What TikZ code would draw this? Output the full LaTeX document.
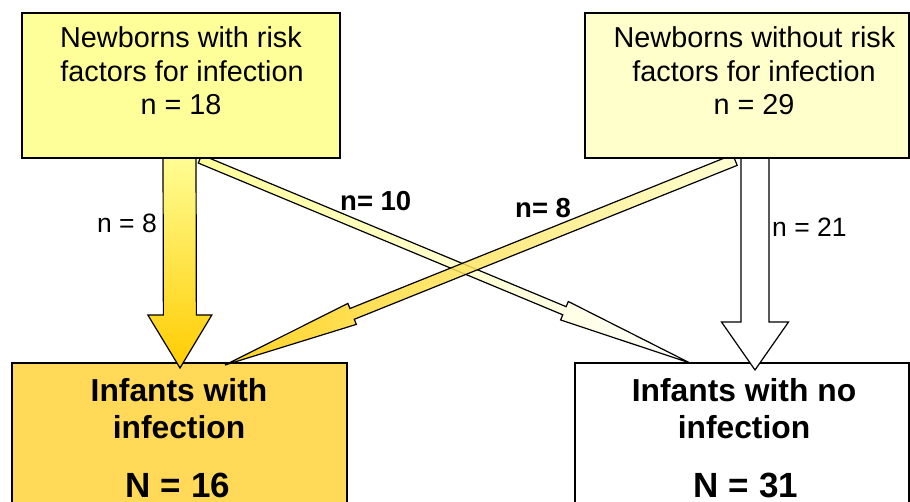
\documentclass[tikz,border=0pt]{standalone}
\usepackage{fontspec}
\setmainfont{Liberation Sans}
\usetikzlibrary{calc}
\definecolor{ylight}{HTML}{FFFF99}
\definecolor{ypale}{HTML}{FFFFCC}
\definecolor{ygold}{HTML}{FFD957}
\definecolor{ydeep}{HTML}{FFCC00}
% #1 style, #2 start, #3 tip, #4 shaft half width, #5 head half width, #6 head length
\newcommand{\blockarr}[6]{%
  \coordinate (#2-h) at ($(#3)!#6!(#2)$);
  \path[#1] ($(#2)!#4!90:(#3)$) -- ($(#2-h)!#4!90:(#3)$) -- ($(#2-h)!#5!90:(#3)$)
    -- (#3) -- ($(#2-h)!#5!-90:(#3)$) -- ($(#2-h)!#4!-90:(#3)$)
    -- ($(#2)!#4!-90:(#3)$) -- cycle;}
\begin{document}
\begin{tikzpicture}[x=1pt,y=-1pt,
  box/.style={draw=black, line width=1.5pt, inner sep=0pt, rectangle},
  arr/.style={draw=black, line width=1.2pt, line join=miter},
  toptext/.style={anchor=base, inner sep=0pt, font=\fontsize{28.8}{33}\selectfont},
  bottext/.style={anchor=base, inner sep=0pt, font=\bfseries\fontsize{31.8}{36}\selectfont},
  bigtext/.style={anchor=base, inner sep=0pt, font=\bfseries\fontsize{35}{40}\selectfont},
  lab/.style={anchor=base, inner sep=0pt, font=\fontsize{26.5}{30}\selectfont},
  blab/.style={anchor=base west, inner sep=0pt, font=\bfseries\fontsize{27.5}{30}\selectfont}]
\useasboundingbox (0,0) rectangle (910,502);
% bottom boxes
\node[box, fill=ygold, minimum width=335pt, minimum height=167pt] (inf) at (179.5,446.5) {};
\node[box, fill=white, minimum width=334pt, minimum height=167pt] (noinf) at (742,446.5) {};
% arrow anchor coordinates
\coordinate (a10s) at (200,159);
\coordinate (a10t) at (690,363);
\coordinate (a8s) at (735,160);
\coordinate (a8t) at (225,365);
\coordinate (vls) at (179.5,150);
\coordinate (vlt) at (180,368);
\coordinate (vrs) at (755,150);
\coordinate (vrt) at (755,370);
% arrows
\blockarr{arr, left color=ylight, right color=white}{a10s}{a10t}{4.4pt}{10pt}{136pt}
\blockarr{arr, top color=ylight, bottom color=ydeep}{vls}{vlt}{16.5pt}{32pt}{53pt}
\blockarr{arr, fill=white}{vrs}{vrt}{14pt}{33.5pt}{48pt}
\blockarr{arr, left color=ydeep, right color=ypale, fill opacity=0.85}{a8s}{a8t}{5.8pt}{11.3pt}{137pt}
% top boxes
\node[box, fill=ylight, minimum width=318pt, minimum height=145pt] (risk) at (181,85.5) {};
\node[box, fill=ypale, minimum width=324pt, minimum height=145pt] (norisk) at (747,85.5) {};
% texts
\node[toptext] (r1) at (181,48) {Newborns with risk};
\node[toptext] (r2) at (182,82) {factors for infection};
\node[toptext] (r3) at (181,115) {n = 18};
\node[toptext] (n1) at (754.5,48) {Newborns without risk};
\node[toptext] (n2) at (754,82) {factors for infection};
\node[toptext] (n3) at (754,115) {n = 29};
\node[bottext] (i1) at (179,402) {Infants with};
\node[bottext] (i2) at (179,438) {infection};
\node[bigtext] (i3) at (178,497) {N = 16};
\node[bottext] (o1) at (744,402) {Infants with no};
\node[bottext] (o2) at (744,438) {infection};
\node[bigtext] (o3) at (746,497) {N = 31};
\node[lab, anchor=base east] (l8) at (157,233) {n = 8};
\node[lab, anchor=base west] (l21) at (772,237) {n = 21};
\node[blab] (l10) at (340,211) {n= 10};
\node[blab] (l8b) at (515,218) {n= 8};
\end{tikzpicture}
\end{document}
